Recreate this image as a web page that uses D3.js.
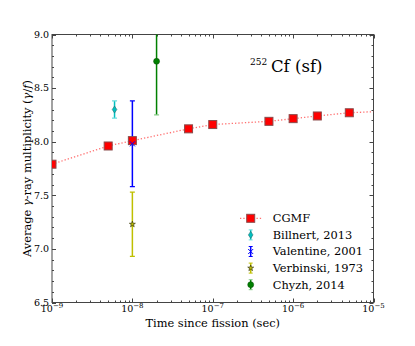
<!DOCTYPE html>
<html><head><meta charset="utf-8">
<script src="https://cdn.jsdelivr.net/npm/d3@7"></script>
<style>
html,body{margin:0;padding:0;background:#fff;}
svg text{font-family:"DejaVu Serif",serif;fill:#000;}
</style></head>
<body><svg id="c" width="415" height="346"></svg>
<script>
// CGMF calculation
const cgmfTimes = [1e-9, 5e-9, 1e-8, 5e-8, 1e-7, 5e-7, 1e-6, 2e-6, 5e-6];
const cgmfValues = [7.79, 7.96, 8.01, 8.12, 8.16, 8.19, 8.215, 8.24, 8.27];
// CGMF dotted curve (continues to 1e-5)
const curveTimes = [1e-9, 5e-9, 1e-8, 5e-8, 1e-7, 5e-7, 1e-6, 2e-6, 5e-6, 1e-5];
const curveValues = [7.79, 7.96, 8.01, 8.12, 8.16, 8.19, 8.215, 8.24, 8.27, 8.28];
// Experimental data: [time, value, error]
const billnert = [[6e-9, 8.30, 0.08]];
const valentine = [[1e-8, 7.98, 0.40]];
const verbinski = [[1e-8, 7.23, 0.30]];
const chyzh = [[2e-8, 8.75, 0.50]];
const xTickValues = [1e-9, 1e-8, 1e-7, 1e-6, 1e-5];
const xTickExps = ["\u22129", "\u22128", "\u22127", "\u22126", "\u22125"];
const yTickValues = [6.5, 7.0, 7.5, 8.0, 8.5, 9.0];
const legendLabels = ["CGMF", "Billnert, 2013", "Valentine, 2001", "Verbinski, 1973", "Chyzh, 2014"];

const svg = d3.select("#c");
const L = 52, R = 373.5, T = 34.5, B = 302.5;
const x = d3.scaleLog().domain([1e-9, 1e-5]).range([L, R]);
const y = d3.scaleLinear().domain([6.5, 9.0]).range([B, T]);

svg.append("defs").append("clipPath").attr("id", "clip")
  .append("rect").attr("x", L).attr("y", T).attr("width", R - L).attr("height", B - T);

// minor tick values
const xMinor = [];
for (let e = -9; e < -5; e++) for (let k = 2; k <= 9; k++) xMinor.push(k * Math.pow(10, e));
const yMinor = d3.range(6.5, 9.0001, 0.1).map(v => +v.toFixed(1)).filter(v => !yTickValues.some(t => Math.abs(t - v) < 1e-6));

const tickColor = "#444";
const tk = svg.append("g").attr("stroke", tickColor).attr("stroke-width", 1);
function xt(vals, len) {
  vals.forEach(v => {
    const px = Math.round(x(v)) + 0.5;
    tk.append("line").attr("x1", px).attr("x2", px).attr("y1", B).attr("y2", B - len);
    tk.append("line").attr("x1", px).attr("x2", px).attr("y1", T).attr("y2", T + len);
  });
}
function yt(vals, len) {
  vals.forEach(v => {
    const py = Math.round(y(v)) + 0.5;
    tk.append("line").attr("x1", L).attr("x2", L + len).attr("y1", py).attr("y2", py);
    tk.append("line").attr("x1", R).attr("x2", R - len).attr("y1", py).attr("y2", py);
  });
}
xt(xTickValues, 4); xt(xMinor, 2);
yt(yTickValues, 4); yt(yMinor, 2);

// frame
svg.append("rect").attr("x", L).attr("y", T).attr("width", R - L).attr("height", B - T)
  .attr("fill", "none").attr("stroke", tickColor).attr("stroke-width", 1);

// tick labels
const xl = svg.append("g").attr("font-size", "9.5px").attr("text-anchor", "middle");
xTickValues.forEach((v, i) => {
  const t = xl.append("text").attr("x", x(v)).attr("y", 312);
  t.append("tspan").text("10");
  t.append("tspan").attr("dy", -4.5).attr("font-size", "7px").text(xTickExps[i]);
});
const yl = svg.append("g").attr("font-size", "9.5px").attr("text-anchor", "end");
yTickValues.forEach(v => {
  yl.append("text").attr("x", 49).attr("y", y(v)).attr("dy", "0.35em").text(v.toFixed(1));
});

// axis labels
svg.append("text").attr("x", (L + R) / 2).attr("y", 327).attr("text-anchor", "middle")
  .attr("font-size", "11.4px").text("Time since fission (sec)");
const ylab = svg.append("text").attr("transform", `translate(31,${(T + B) / 2}) rotate(-90)`)
  .attr("text-anchor", "middle").attr("font-size", "11.4px");
ylab.append("tspan").text("Average ");
ylab.append("tspan").attr("font-style", "italic").text("\u03b3");
ylab.append("tspan").text("-ray multiplicity (");
ylab.append("tspan").attr("font-style", "italic").text("\u03b3");
ylab.append("tspan").text("/");
ylab.append("tspan").attr("font-style", "italic").text("f");
ylab.append("tspan").text(")");

// title
svg.append("text").attr("x", 250).attr("y", 65).attr("font-size", "9px").text("252");
svg.append("text").attr("x", 271).attr("y", 72).attr("font-size", "16.5px").text("Cf (sf)");

const plot = svg.append("g").attr("clip-path", "url(#clip)");

// CGMF dotted line
const line = d3.line().x(d => x(d[0])).y(d => y(d[1]));
plot.append("path").datum(curveTimes.map((t, i) => [t, curveValues[i]]))
  .attr("d", line).attr("fill", "none").attr("stroke", "#ff4040").attr("stroke-opacity", 0.75)
  .attr("stroke-width", 1.3).attr("stroke-dasharray", "1.3,2");

// error bar helper
function errbar(g, cx, v, err, color, capColor) {
  const y1 = y(v + err), y2 = y(v - err);
  g.append("line").attr("x1", cx).attr("x2", cx).attr("y1", y1).attr("y2", y2)
    .attr("stroke", color).attr("stroke-width", 1.5);
  [y1, y2].forEach(yy => g.append("line").attr("x1", cx - 2.5).attr("x2", cx + 2.5)
    .attr("y1", yy).attr("y2", yy).attr("stroke", capColor).attr("stroke-width", 1.2));
}
const cyan = "#00bfbf", blue = "#0000ff", yel = "#bfbf00", green = "#008000";
function diamond(g, cx, cy, c) {
  g.append("path").attr("d", `M${cx},${cy - 3.5}L${cx + 2.3},${cy}L${cx},${cy + 3.5}L${cx - 2.3},${cy}Z`)
    .attr("fill", c).attr("stroke", "#2a6f6f").attr("stroke-width", 0.6);
}
function xmark(g, cx, cy, c) {
  g.append("path").attr("d", `M${cx - 2.5},${cy - 2.5}L${cx + 2.5},${cy + 2.5}M${cx - 2.5},${cy + 2.5}L${cx + 2.5},${cy - 2.5}`)
    .attr("stroke", c).attr("stroke-width", 1);
}
const star = d3.symbol().type(d3.symbolStar).size(11);
function starm(g, cx, cy, c) {
  g.append("path").attr("d", star()).attr("transform", `translate(${cx},${cy})`)
    .attr("fill", c).attr("stroke", "#3a3a10").attr("stroke-width", 0.7);
}
function circ(g, cx, cy, c) {
  g.append("circle").attr("cx", cx).attr("cy", cy).attr("r", 3).attr("fill", c).attr("stroke", "#0a4a0a").attr("stroke-width", 0.5);
}
function square(g, cx, cy) {
  g.append("rect").attr("x", cx - 4).attr("y", cy - 4).attr("width", 8).attr("height", 8)
    .attr("fill", "#ff0000").attr("stroke", "#8a4a4a").attr("stroke-width", 1);
}

billnert.forEach(d => { errbar(plot, x(d[0]), d[1], d[2], cyan, "#66dddd"); diamond(plot, x(d[0]), y(d[1]), cyan); });
verbinski.forEach(d => { errbar(plot, x(d[0]), d[1], d[2], yel, yel); starm(plot, x(d[0]), y(d[1]), yel); });
chyzh.forEach(d => { errbar(plot, x(d[0]), d[1], d[2], green, "#88cc88"); circ(plot, x(d[0]), y(d[1]), green); });
valentine.forEach(d => { errbar(plot, x(d[0]), d[1], d[2], blue, blue); });
cgmfTimes.forEach((t, i) => square(plot, x(t), y(cgmfValues[i])));
valentine.forEach(d => { xmark(plot, x(d[0]), y(d[1]), blue); });

// legend
const lg = svg.append("g");
const ly0 = 218.3, ldy = 16.6, lmx = 250.7;
legendLabels.forEach((lab, i) => {
  const cy = ly0 + i * ldy;
  lg.append("text").attr("x", 272.7).attr("y", cy).attr("dy", "0.35em").attr("font-size", "11.4px").text(lab);
});
// CGMF legend entry
lg.append("line").attr("x1", 240).attr("x2", 262).attr("y1", ly0).attr("y2", ly0)
  .attr("stroke", "#ff4040").attr("stroke-opacity", 0.75).attr("stroke-width", 1.3).attr("stroke-dasharray", "1.3,2");
square(lg, lmx, ly0);
function legErr(i, color, capColor) {
  const cy = ly0 + i * ldy;
  lg.append("line").attr("x1", lmx).attr("x2", lmx).attr("y1", cy - 5).attr("y2", cy + 5).attr("stroke", color).attr("stroke-width", 1.5);
  [cy - 5, cy + 5].forEach(yy => lg.append("line").attr("x1", lmx - 2).attr("x2", lmx + 2).attr("y1", yy).attr("y2", yy).attr("stroke", capColor).attr("stroke-width", 1));
  return cy;
}
diamond(lg, lmx, legErr(1, cyan, "#66dddd"), cyan);
xmark(lg, lmx, legErr(2, blue, blue), blue);
starm(lg, lmx, legErr(3, yel, yel), yel);
circ(lg, lmx, legErr(4, green, "#88cc88"), green);
</script></body></html>
